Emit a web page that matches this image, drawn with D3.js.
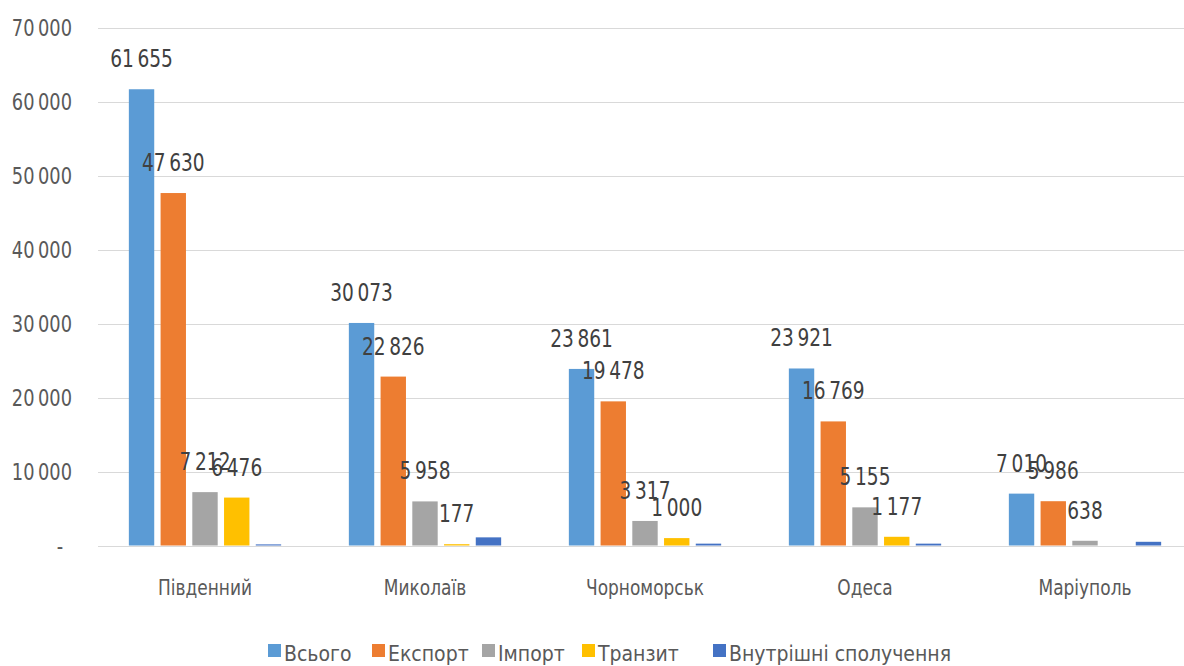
<!DOCTYPE html>
<html>
<head>
<meta charset="utf-8">
<script src="https://cdn.jsdelivr.net/npm/d3@7"></script>
<style>
  html, body { margin: 0; padding: 0; background: #fff; }
  svg { display: block; }
  text { font-family: "DejaVu Sans Condensed", "DejaVu Sans", sans-serif; }
</style>
</head>
<body>
<svg id="chart" width="1184" height="666"></svg>
<script>
// Ports and cargo flows (thousand tonnes)
const ports = ["Південний", "Миколаїв", "Чорноморськ", "Одеса", "Маріуполь"];
const seriesNames = ["Всього", "Експорт", "Імпорт", "Транзит", "Внутрішні сполучення"];
const total    = [61655, 30073, 23861, 23921, 7010];
const exportV  = [47630, 22826, 19478, 16769, 5986];
const importV  = [7212, 5958, 3317, 5155, 638];
const transit  = [6476, 177, 1000, 1177, null];
const domestic = [150, 1100, 250, 250, 500];
const yTicks = [0, 10000, 20000, 30000, 40000, 50000, 60000, 70000];
const colors = ["#5B9BD5", "#ED7D31", "#A5A5A5", "#FFC000", "#4472C4"];
const labelled = [true, true, true, true, false];

const seriesValues = [total, exportV, importV, transit, domestic];

const svg = d3.select("#chart");
const margin = { left: 95, right: -11, top: 27.5, bottom: 120.5 };
const W = 1184, H = 666;

const x0 = d3.scaleBand().domain(ports)
  .range([margin.left, W - margin.right])
  .paddingInner(0.25).paddingOuter(0.125);
const x1 = d3.scaleBand().domain(seriesNames)
  .range([0, x0.bandwidth()]).padding(0.2);
const y = d3.scaleLinear().domain([0, 70000]).range([H - margin.bottom, margin.top]);

const fmt = v => d3.format(",")(v).replace(/,/g, "\u2009");

// place horizontally squeezed text: x is given in un-squeezed coordinates
function narrowText(sel, xFn, sx) {
  sel.attr("transform", `scale(${sx},1)`)
     .attr("x", (d, i) => xFn(d, i) / sx);
}

// gridlines
svg.append("g").selectAll("line").data(yTicks).join("line")
  .attr("x1", 98).attr("x2", W)
  .attr("y1", d => Math.round(y(d)) + 0.5).attr("y2", d => Math.round(y(d)) + 0.5)
  .attr("stroke", "#D9D9D9").attr("stroke-width", 1);

// y tick labels
svg.append("g").selectAll("text").data(yTicks).join("text")
  .call(narrowText, d => d === 0 ? 60 : 72, 0.86)
  .attr("y", d => y(d))
  .attr("dy", "0.35em")
  .attr("text-anchor", d => d === 0 ? "middle" : "end")
  .attr("fill", "#595959")
  .attr("font-size", 23)
  .text(d => d === 0 ? "-" : fmt(d));

// bars
const groups = svg.append("g").selectAll("g").data(ports).join("g")
  .attr("transform", d => `translate(${x0(d)},0)`);

seriesNames.forEach((name, si) => {
  const vals = seriesValues[si];
  groups.append("rect")
    .filter((d, i) => vals[i] != null)
    .attr("x", x1(name))
    .attr("width", x1.bandwidth())
    .attr("y", (d, i) => y(vals[i]))
    .attr("height", (d, i) => y(0) - y(vals[i]))
    .attr("fill", colors[si]);
});

// value labels
seriesNames.forEach((name, si) => {
  if (!labelled[si]) return;
  const vals = seriesValues[si];
  groups.append("g").append("text")
    .filter((d, i) => vals[i] != null)
    .call(narrowText, () => x1(name) + x1.bandwidth() / 2, 0.86)
    .attr("y", (d, i) => y(vals[i]) - 22)
    .attr("text-anchor", "middle")
    .attr("fill", "#404040")
    .attr("font-size", 24)
    .text((d, i) => fmt(vals[i]));
});

// category labels
svg.append("g").selectAll("text").data(ports).join("text")
  .call(narrowText, d => x0(d) + x0.bandwidth() / 2, 0.9)
  .attr("y", 595)
  .attr("text-anchor", "middle")
  .attr("fill", "#595959")
  .attr("font-size", 21)
  .text(d => d);

// legend
const legendX = [268, 372, 482, 582, 713];
const legend = svg.append("g").selectAll("g").data(seriesNames).join("g")
  .attr("transform", (d, i) => `translate(${legendX[i]},655)`);
legend.append("rect")
  .attr("x", 0).attr("y", -11).attr("width", 13).attr("height", 13)
  .attr("fill", (d, i) => colors[i]);
legend.append("text")
  .attr("x", 16).attr("y", 0).attr("dy", "0.3em")
  .attr("fill", "#595959")
  .attr("font-size", 21)
  .text(d => d);
</script>
</body>
</html>
